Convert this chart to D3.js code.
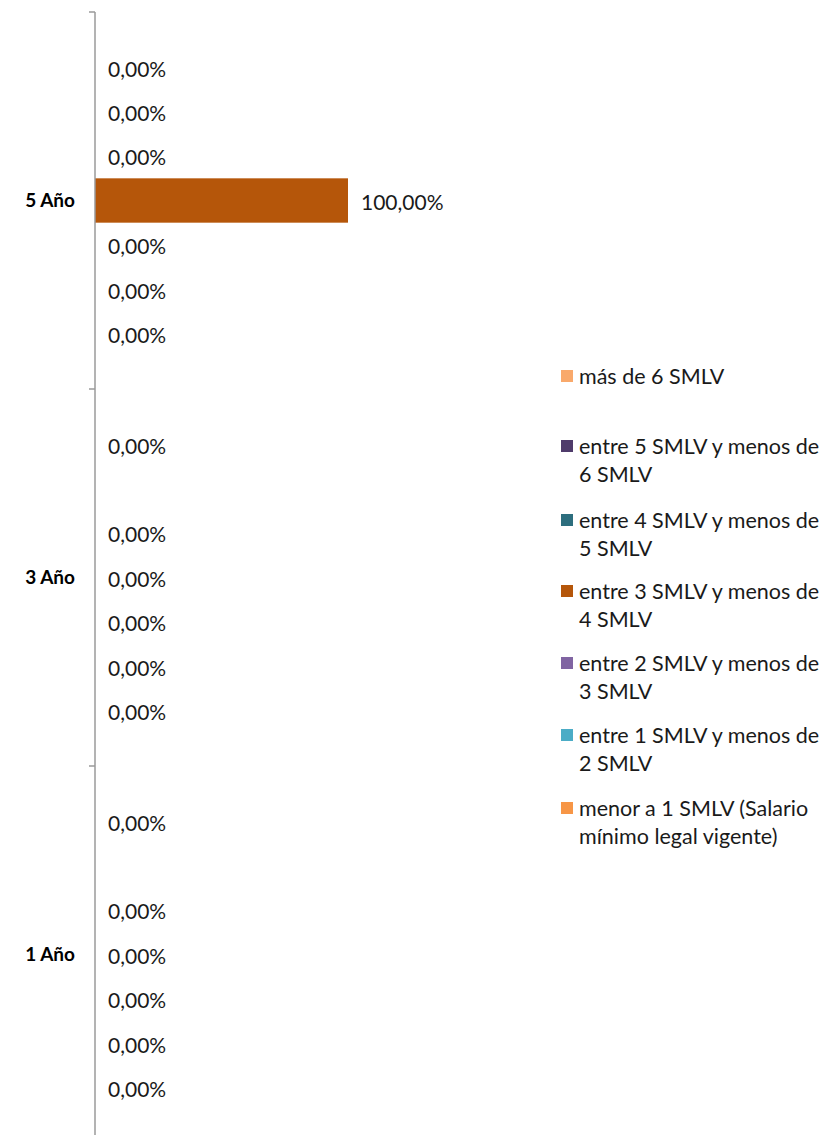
<!DOCTYPE html>
<html>
<head>
<meta charset="utf-8">
<script src="https://cdn.jsdelivr.net/npm/d3@7/dist/d3.min.js"></script>
<style>
  html, body { margin: 0; padding: 0; background: #fff; }
  svg { display: block; }
</style>
</head>
<body>
<script>
// Categories, top to bottom as drawn
const categories = ["5 Año", "3 Año", "1 Año"];

// Series, listed top to bottom within each group (same order as the legend)
const seriesNames = [
  "más de 6 SMLV",
  "entre 5 SMLV y menos de 6 SMLV",
  "entre 4 SMLV y menos de 5 SMLV",
  "entre 3 SMLV y menos de 4 SMLV",
  "entre 2 SMLV y menos de 3 SMLV",
  "entre 1 SMLV y menos de 2 SMLV",
  "menor a 1 SMLV (Salario mínimo legal vigente)"
];
const seriesColors = ["#F9A96B", "#4F3B6B", "#2D6E7E", "#B5560A", "#8064A2", "#4BACC6", "#F79646"];

// Percent values per series, in category order [5 Año, 3 Año, 1 Año]; null = no data
const masDe6   = [0, 0, 0];
const entre5y6 = [0, null, null];
const entre4y5 = [0, 0, 0];
const entre3y4 = [100, 0, 0];
const entre2y3 = [0, 0, 0];
const entre1y2 = [0, 0, 0];
const menorA1  = [0, 0, 0];
const seriesValues = [masDe6, entre5y6, entre4y5, entre3y4, entre2y3, entre1y2, menorA1];

// Legend lines (wrapped as in the legend box)
const legendLines = [
  ["más de 6 SMLV"],
  ["entre 5 SMLV y menos de", "6 SMLV"],
  ["entre 4 SMLV y menos de", "5 SMLV"],
  ["entre 3 SMLV y menos de", "4 SMLV"],
  ["entre 2 SMLV y menos de", "3 SMLV"],
  ["entre 1 SMLV y menos de", "2 SMLV"],
  ["menor a 1 SMLV (Salario", "mínimo legal vigente)"]
];

const W = 826, H = 1135;
const FONT = "Lato, 'Open Sans', sans-serif";

const svg = d3.select("body").append("svg")
  .attr("width", W).attr("height", H);

const x = d3.scaleLinear().domain([0, 100]).range([95, 348]);
const y = d3.scaleBand().domain(categories).range([12, 1143]).padding(0);
const ySeries = d3.scaleBand().domain(d3.range(seriesNames.length))
  .range([0, y.bandwidth()]).paddingInner(0).paddingOuter(0.75);

const fmt = v => d3.format(".2f")(v).replace(".", ",") + "%";

// Flatten into drawable records
const records = [];
categories.forEach((c, ci) => {
  seriesValues.forEach((vals, si) => {
    const v = vals[ci];
    if (v !== null && v !== undefined) records.push({ cat: c, si, v });
  });
});

// Bars
svg.append("g").selectAll("rect").data(records).join("rect")
  .attr("x", x(0))
  .attr("y", d => y(d.cat) + ySeries(d.si))
  .attr("width", d => x(d.v) - x(0))
  .attr("height", ySeries.bandwidth())
  .attr("fill", d => seriesColors[d.si]);

// Category axis: vertical line with short ticks at the group boundaries
const gAxis = svg.append("g").attr("transform", `translate(${x(0)},0)`);
gAxis.append("line")
  .attr("x1", 0).attr("x2", 0)
  .attr("y1", y.range()[0]).attr("y2", y.range()[1])
  .attr("stroke", "#9a9a9a").attr("stroke-width", 1.5);
const bounds = categories.map(c => y(c)).concat([y.range()[1]]);
gAxis.selectAll("line.b").data(bounds).join("line")
  .attr("class", "b")
  .attr("x1", -6).attr("x2", 0)
  .attr("y1", d => d).attr("y2", d => d)
  .attr("stroke", "#9a9a9a").attr("stroke-width", 1.5);

// Category labels
svg.append("g").selectAll("text").data(categories).join("text")
  .attr("x", 75)
  .attr("y", c => y(c) + y.bandwidth() / 2)
  .attr("dy", "0.35em")
  .attr("text-anchor", "end")
  .attr("font-family", FONT)
  .attr("font-weight", "bold")
  .attr("font-size", 19)
  .attr("fill", "#000")
  .text(c => c);

// Value labels
svg.append("g").selectAll("text").data(records).join("text")
  .attr("x", d => x(d.v) + 13)
  .attr("y", d => y(d.cat) + ySeries(d.si) + ySeries.bandwidth() / 2 + 2)
  .attr("dy", "0.35em")
  .attr("font-family", FONT)
  .attr("font-size", 21)
  .attr("fill", "#1a1a1a")
  .text(d => fmt(d.v));

// Legend
const legendTop = [376, 446, 520, 591, 663, 735, 808];
const lg = svg.append("g");
const items = lg.selectAll("g").data(seriesNames).join("g")
  .attr("transform", (d, i) => `translate(0,${legendTop[i]})`);
items.append("rect")
  .attr("x", 561).attr("y", -6).attr("width", 12).attr("height", 12)
  .attr("fill", (d, i) => seriesColors[i]);
items.append("text")
  .attr("x", 579)
  .attr("font-family", FONT)
  .attr("font-size", 21.5)
  .attr("fill", "#1a1a1a")
  .selectAll("tspan").data((d, i) => legendLines[i]).join("tspan")
  .attr("x", 579)
  .attr("y", (d, j) => j * 28)
  .attr("dy", "0.35em")
  .text(d => d);
</script>
</body>
</html>
